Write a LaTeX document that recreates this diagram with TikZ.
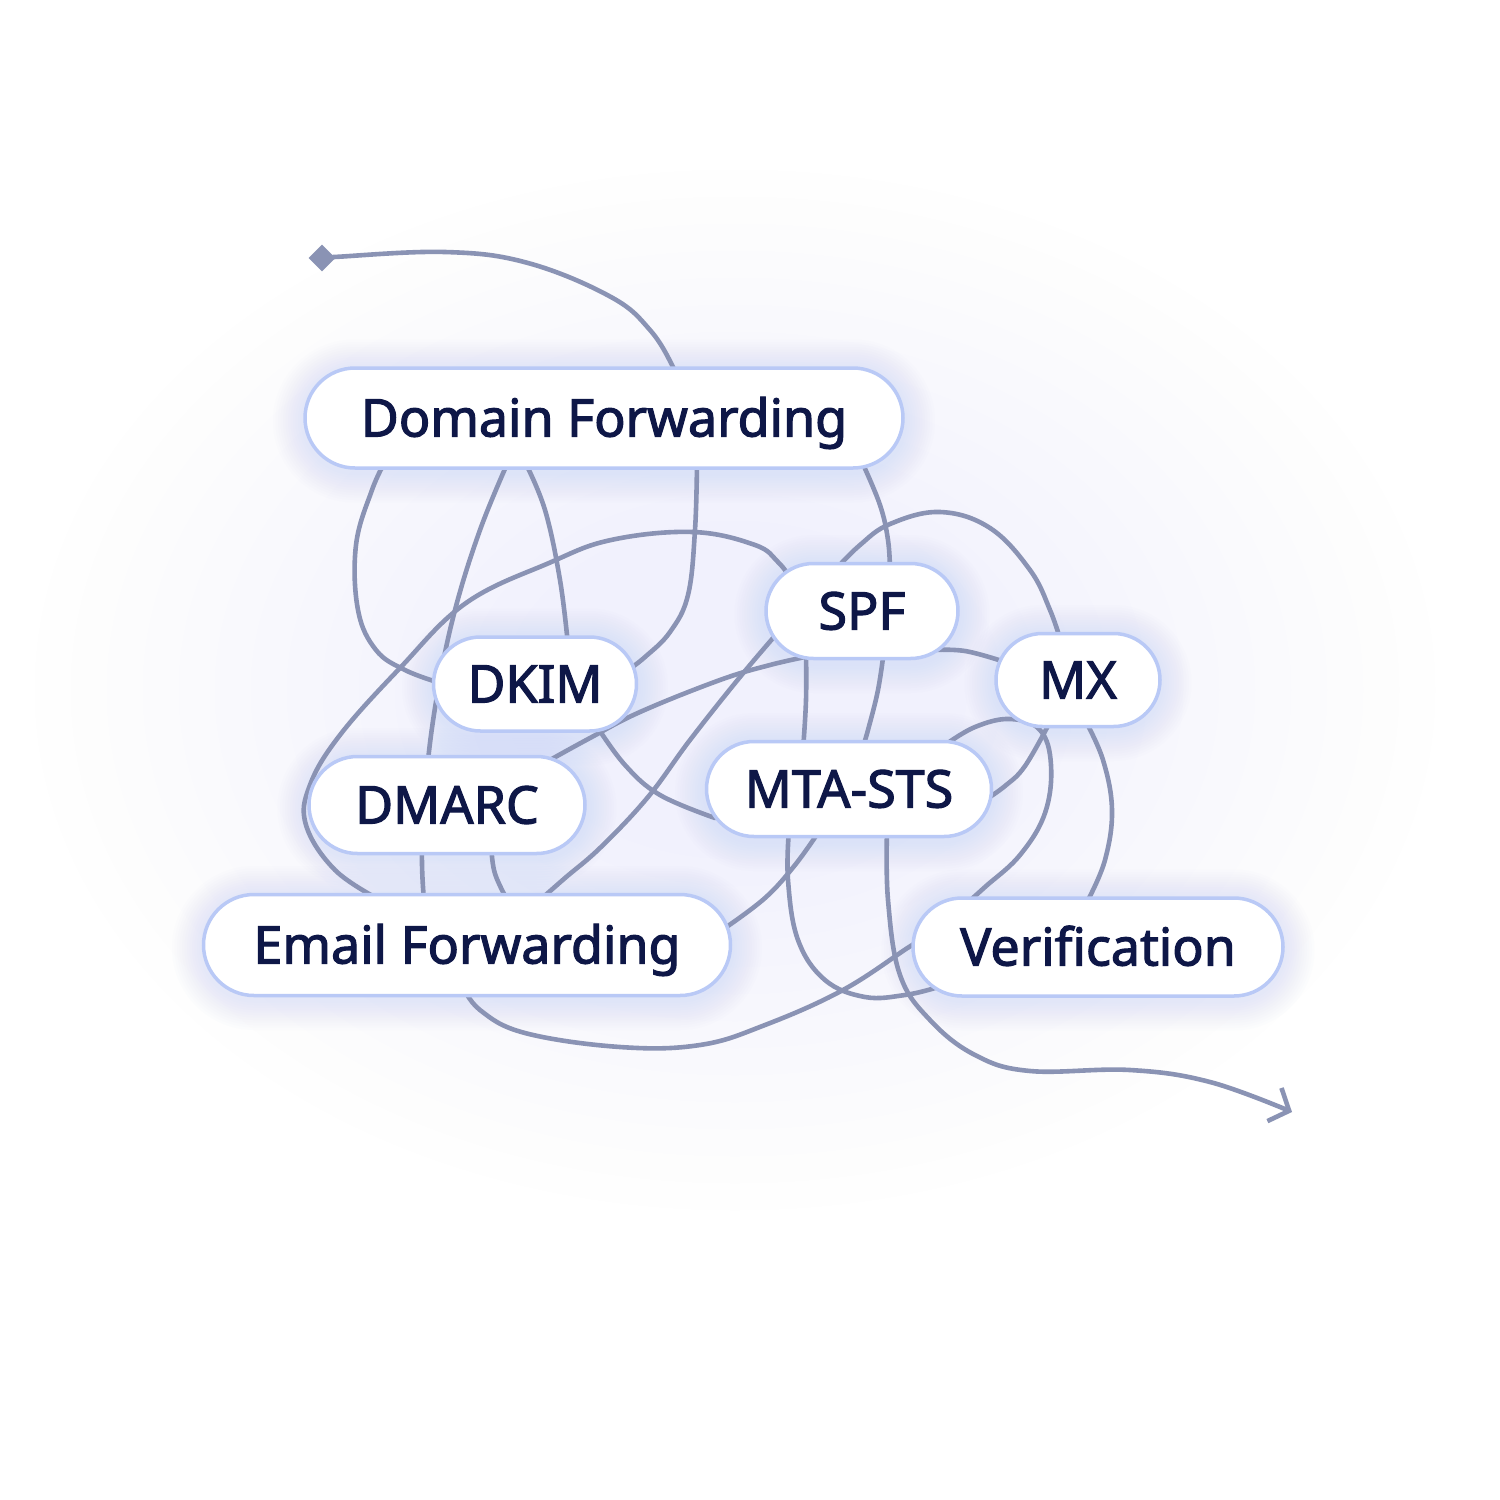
\documentclass[tikz,border=0pt]{standalone}
\usepackage{fontspec}
\newfontfamily\pillfont{Noto Sans}[FakeBold=2.2]
\usetikzlibrary{shapes.misc,shapes.geometric,arrows.meta}
\definecolor{navy}{RGB}{14,23,71}
\definecolor{wire}{RGB}{138,147,180}
\definecolor{pillborder}{RGB}{185,201,246}
\definecolor{glowc}{RGB}{190,204,248}
\definecolor{haze}{RGB}{218,227,253}
\tikzset{
 pill/.style={rounded rectangle, draw=pillborder, line width=3.5pt, fill=white, text=navy,
   font=\pillfont\fontsize{52}{62}\selectfont, text height=37pt, text depth=0pt, inner sep=0pt},
 wireline/.style={draw=wire, line width=4.6pt, line cap=round, line join=round},
 tangle/.style={wireline, smooth, tension=0.65},
}
\newcommand\pillglow[4]{\foreach \k in {1,...,12}{\node[rounded rectangle, fill=glowc, opacity=0.032, draw=none,
   minimum width={#3pt+\k*5pt}, minimum height={#4pt+\k*5pt}, inner sep=0pt] at (#1,#2) {};}}
\begin{document}
\begin{tikzpicture}[x=1pt,y=-1pt]
\useasboundingbox (0,0) rectangle (1500,1500);
\fill[white] (0,0) rectangle (1500,1500);
% background haze
\foreach \k in {0,...,13}{\fill[haze, opacity=0.016] (735,690) ellipse [x radius={700-\k*36}, y radius={520-\k*27}];}
% glows
\pillglow{604}{421}{602}{103}
\pillglow{862}{614}{195}{98}
\pillglow{535}{687}{206}{97}
\pillglow{1078}{683}{167}{96}
\pillglow{849}{792}{288}{98}
\pillglow{447}{808}{279}{100}
\pillglow{467}{948}{530}{104}
\pillglow{1098}{950}{373}{101}
% start marker
\node[diamond, fill=wire, inner sep=0pt, minimum size=27pt] (start) at (322,258) {};
% tangle
\draw[tangle] plot coordinates {(start.center) (334,257) (445,252) (528,263) (611,297) (650,330) (673,367) (678,385)};
\draw[tangle] plot coordinates {(385,462) (372,490) (356,545) (358,610) (376,650) (405,670) (440,683)};
\draw[tangle] plot coordinates {(508,462) (480,530) (455,610) (438,690) (427,770) (422,850) (424,900)};
\draw[tangle] plot coordinates {(525,462) (545,510) (560,580) (568,645)};
\draw[tangle] plot coordinates {(697,462) (695,530) (688,595) (670,632) (645,657) (628,670)};
\draw[tangle] plot coordinates {(862,462) (880,505) (888,540) (890,570)};
\draw[tangle] plot coordinates {(380,900) (335,870) (306,825) (310,785) (340,735) (400,668) (466,603) (549,563) (611,540) (693,532) (755,545) (778,562) (792,580)};
\draw[tangle] plot coordinates {(596,725) (625,765) (660,795) (715,818)};
\draw[tangle] plot coordinates {(550,760) (590,738) (640,712) (720,680) (770,665) (810,656)};
\draw[tangle] plot coordinates {(806,650) (806,700) (803,750)};
\draw[tangle] plot coordinates {(884,650) (878,690) (868,730) (862,750)};
\draw[tangle] plot coordinates {(780,630) (740,677) (690,740) (648,797) (601,847) (565,878) (540,900)};
\draw[tangle] plot coordinates {(491,845) (494,870) (502,890) (508,900)};
\draw[tangle] plot coordinates {(835,570) (860,545) (890,524) (940,512) (990,528) (1030,570) (1050,610) (1062,645)};
\draw[tangle] plot coordinates {(930,650) (965,651) (1005,662)};
\draw[tangle] plot coordinates {(945,745) (975,727) (1010,719) (1040,730) (1051,765) (1045,813) (1020,855) (985,887) (965,905)};
\draw[tangle] plot coordinates {(985,800) (1005,786) (1025,766) (1050,722)};
\draw[tangle] plot coordinates {(1085,720) (1103,760) (1112,810) (1105,860) (1088,900)};
\draw[tangle] plot coordinates {(789,830) (788,880) (798,940) (825,980) (865,997) (905,995) (935,988)};
\draw[tangle] plot coordinates {(820,830) (795,865) (765,898) (725,928)};
\coordinate (finish) at (1292,1112);
\draw[tangle, -{Straight Barb[length=16pt,width=36pt]}] plot coordinates {(887,830) (888,900) (900,975) (930,1020) (975,1055) (1030,1071) (1130,1070) (1210,1082) (finish)};
\draw[tangle] plot coordinates {(462,985) (480,1010) (525,1033) (620,1047) (700,1045) (765,1025) (843,990) (909,947) (925,938)};
% pills
\node[pill, minimum width=598pt, minimum height=100pt] (df) at (604,418) {Domain Forwarding};
\node[pill, minimum width=192pt, minimum height=95pt] (spf) at (862,611) {SPF};
\node[pill, minimum width=203pt, minimum height=94pt] (dkim) at (535,684) {DKIM};
\node[pill, minimum width=164pt, minimum height=93pt] (mx) at (1078,680) {MX};
\node[pill, minimum width=285pt, minimum height=95pt] (mta) at (849,789) {MTA-STS};
\node[pill, minimum width=276pt, minimum height=97pt] (dmarc) at (447,805) {DMARC};
\node[pill, minimum width=527pt, minimum height=101pt] (ef) at (467,945) {Email Forwarding};
\node[pill, minimum width=370pt, minimum height=98pt] (ver) at (1098,947) {Verification};
\end{tikzpicture}
\end{document}
